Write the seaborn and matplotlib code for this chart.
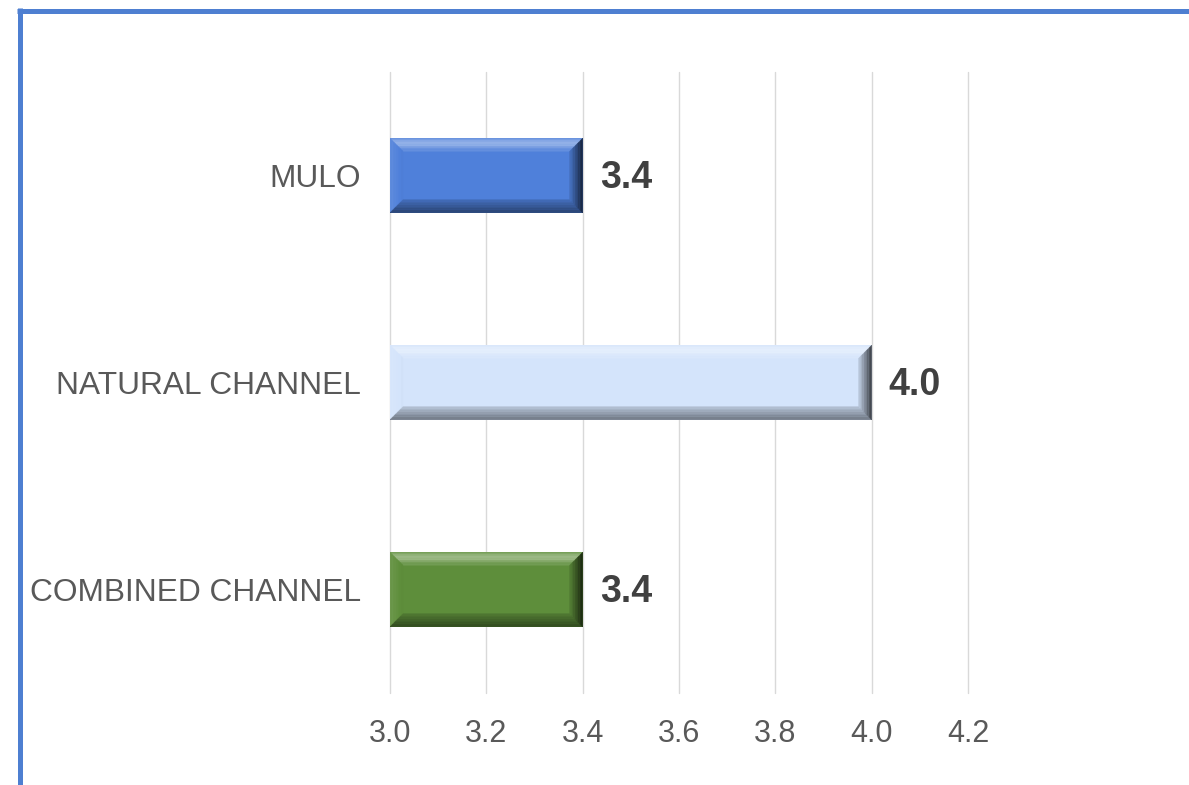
import numpy as np
import matplotlib
matplotlib.use("Agg")
import matplotlib.pyplot as plt
from matplotlib.patches import Polygon
from matplotlib.lines import Line2D
from matplotlib.colors import to_rgb
import seaborn as sns

# Data
categories = ["MULO", "NATURAL CHANNEL", "COMBINED CHANNEL"]
scores = [3.4, 4.0, 3.4]
bar_colors = ["#4F80DA", "#D4E4FB", "#5E8E3B"]
x_ticks = [3.0, 3.2, 3.4, 3.6, 3.8, 4.0, 4.2]

sns.set_theme(style="white")
plt.rcParams["font.family"] = ["Liberation Sans", "DejaVu Sans"]

W, H = 1189, 785
fig = plt.figure(figsize=(W / 100, H / 100), dpi=100)
ax = fig.add_axes([390 / W, 1 - 693 / H, 578 / W, 621 / H])

sns.barplot(x=scores, y=categories, hue=categories, palette=bar_colors,
            orient="h", width=0.36, legend=False, ax=ax, saturation=1,
            linewidth=0)

ax.set_xlim(x_ticks[0], x_ticks[-1])
ax.set_ylim(2.5, -0.5)
ax.set_xticks(x_ticks)
ax.set_xticklabels([f"{t:.1f}" for t in x_ticks])
ax.grid(axis="x", color="#D9D9D9", linewidth=1.0)
ax.grid(axis="y", visible=False)
for gl in ax.get_xgridlines():
    gl.set_clip_on(False)
ax.set_axisbelow(True)
for s in ax.spines.values():
    s.set_visible(False)
ax.tick_params(axis="x", length=0, labelsize=22, labelcolor="#595959", pad=19)
ax.tick_params(axis="y", length=0, labelsize=22.8, labelcolor="#595959", pad=21)
ax.set_xlabel("")
ax.set_ylabel("")


def mix(c, other, t):
    c = np.array(to_rgb(c))
    o = np.array(to_rgb(other))
    return tuple(np.clip(c * (1 - t) + o * t, 0, 1))


def shade(base, amount):
    # positive amount lightens towards white, negative darkens towards black
    return mix(base, "white", amount) if amount >= 0 else mix(base, "black", -amount)


# Bevelled look on each bar, built from thin bands on every side
fig.canvas.draw()
to_data = ax.transData.inverted()
xmin = ax.get_xlim()[0]
bev = 13      # facet depth in pixels
nband = 8
profiles = {
    "top": lambda t: 0.12 + 0.28 * np.sin(np.pi * min(t * 1.2, 1.0)),
    "left": lambda t: 0.10 - 0.12 * t,
    "bottom": lambda t: -0.50 + 0.35 * t,
    "right": lambda t: -0.75 + 0.65 * t,
}
for p in ax.patches:
    x, y, w, h = p.get_x(), p.get_y(), p.get_width(), p.get_height()
    if w <= 0:
        continue
    base = p.get_facecolor()
    x0 = max(x, xmin)
    (px0, py0), (px1, py1) = ax.transData.transform([(x0, y), (x + w, y + h)])
    L, R = min(px0, px1), max(px0, px1)
    B, T = min(py0, py1), max(py0, py1)
    z = p.get_zorder() + 0.1
    for k in range(nband):
        d0 = k * bev / nband
        d1 = (k + 1) * bev / nband
        t = (k + 0.5) / nband
        sides = {
            "top": [(L + d0, T - d0), (R - d0, T - d0), (R - d1, T - d1), (L + d1, T - d1)],
            "left": [(L + d0, T - d0), (L + d1, T - d1), (L + d1, B + d1), (L + d0, B + d0)],
            "bottom": [(L + d0, B + d0), (L + d1, B + d1), (R - d1, B + d1), (R - d0, B + d0)],
            "right": [(R - d0, T - d0), (R - d0, B + d0), (R - d1, B + d1), (R - d1, T - d1)],
        }
        for name, pts in sides.items():
            col = shade(base, profiles[name](t))
            ax.add_patch(Polygon(to_data.transform(pts), closed=True,
                                 facecolor=col, edgecolor=col,
                                 linewidth=0.3, zorder=z))

# Value labels
span = ax.get_xlim()[1] - ax.get_xlim()[0]
for i, v in enumerate(scores):
    ax.text(v + 17 / 578 * span, i + 0.01, f"{v:.1f}", va="center", ha="left",
            fontsize=27, fontweight="bold", color="#404040")

# Frame lines along the top and left edges
border = "#4E7FD1"
fig.add_artist(Line2D([17 / W, 1.0], [1 - 10.5 / H, 1 - 10.5 / H], color=border,
                      linewidth=3.6, solid_capstyle="butt", transform=fig.transFigure))
fig.add_artist(Line2D([19.5 / W, 19.5 / W], [1 - 8 / H, 0.0], color=border,
                      linewidth=3.6, solid_capstyle="butt", transform=fig.transFigure))

fig.savefig("out.png", dpi=100, facecolor="white")
